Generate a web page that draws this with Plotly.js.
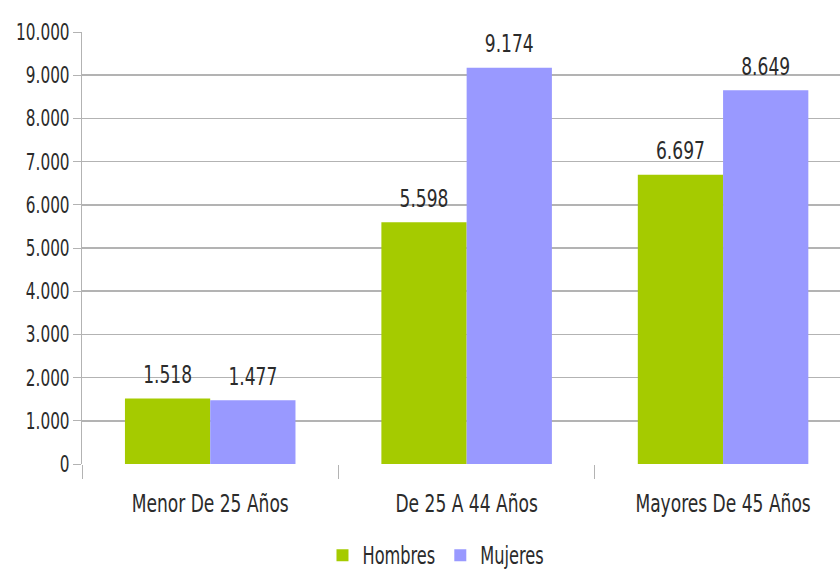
<!DOCTYPE html>
<html>
<head>
<meta charset="utf-8">
<script src="https://cdn.plot.ly/plotly-3.0.1.min.js"></script>
<style>html,body{margin:0;padding:0;background:#fff;}#chart{width:840px;height:574px;}</style>
</head>
<body>
<div id="chart"></div>
<script>
const categories = ["Menor De 25 Años", "De 25 A 44 Años", "Mayores De 45 Años"];
const hombres = [1518, 5598, 6697];
const mujeres = [1477, 9174, 8649];
const seriesNames = ["Hombres", "Mujeres"];

const FONT = "DejaVu Sans Condensed, Liberation Sans Narrow, DejaVu Sans, sans-serif";
const TXT = "#2b2b2b";
const SY = 1.35; // vertical stretch of the reference text

const common = {
  type: "bar",
  x: categories,
  texttemplate: "%{y:,.0f}",
  textposition: "outside",
  cliponaxis: false,
  textfont: {family: FONT, size: 19, color: TXT},
  hoverinfo: "none"
};
const data = [
  Object.assign({}, common, {name: seriesNames[0], y: hombres, marker: {color: "#a5cb00"}}),
  Object.assign({}, common, {name: seriesNames[1], y: mujeres, marker: {color: "#9999ff"}})
];
const layout = {
  width: 840, height: 574,
  margin: {l: 82, r: 0, t: 32, b: 110},
  separators: ",.",
  paper_bgcolor: "#ffffff",
  plot_bgcolor: "#ffffff",
  font: {family: FONT, size: 18, color: TXT},
  bargap: 0.335,
  bargroupgap: 0,
  showlegend: true,
  legend: {orientation: "h", x: 0.467, xanchor: "center", y: -0.17, yanchor: "top",
           font: {family: FONT, size: 18, color: TXT}, itemwidth: 30, tracegroupgap: 0},
  xaxis: {
    type: "category",
    range: [-0.5, 2.456],
    tickson: "boundaries",
    ticks: "outside",
    ticklen: 14,
    tickcolor: "#b3b3b3",
    tickwidth: 1,
    ticklabelstandoff: 26,
    showgrid: false,
    showline: false,
    zeroline: false,
    tickfont: {family: FONT, size: 19, color: TXT},
    fixedrange: true
  },
  yaxis: {
    range: [0, 10000],
    dtick: 1000,
    tickformat: ",.0f",
    ticks: "outside",
    ticklen: 8,
    tickcolor: "#b3b3b3",
    showgrid: true,
    gridcolor: "#b3b3b3",
    gridwidth: 1.5,
    showline: true,
    linecolor: "#b3b3b3",
    linewidth: 1,
    zeroline: false,
    tickfont: {family: FONT, size: 17, color: TXT},
    fixedrange: true
  }
};
Plotly.newPlot("chart", data, layout, {displayModeBar: false, staticPlot: true}).then(function (gd) {
  gd.querySelectorAll("svg text").forEach(function (t) {
    const b = t.getBBox();
    if (!b.width) return;
    const cx = b.x + b.width / 2, cy = b.y + b.height / 2;
    const tr = t.getAttribute("transform") || "";
    const extra = t.classList.contains("bartext") ? " translate(0,-11)" : "";
    t.setAttribute("transform", tr + extra + " translate(" + cx + "," + cy + ") scale(1," + SY + ") translate(" + (-cx) + "," + (-cy) + ")");
  });
});
</script>
</body>
</html>
